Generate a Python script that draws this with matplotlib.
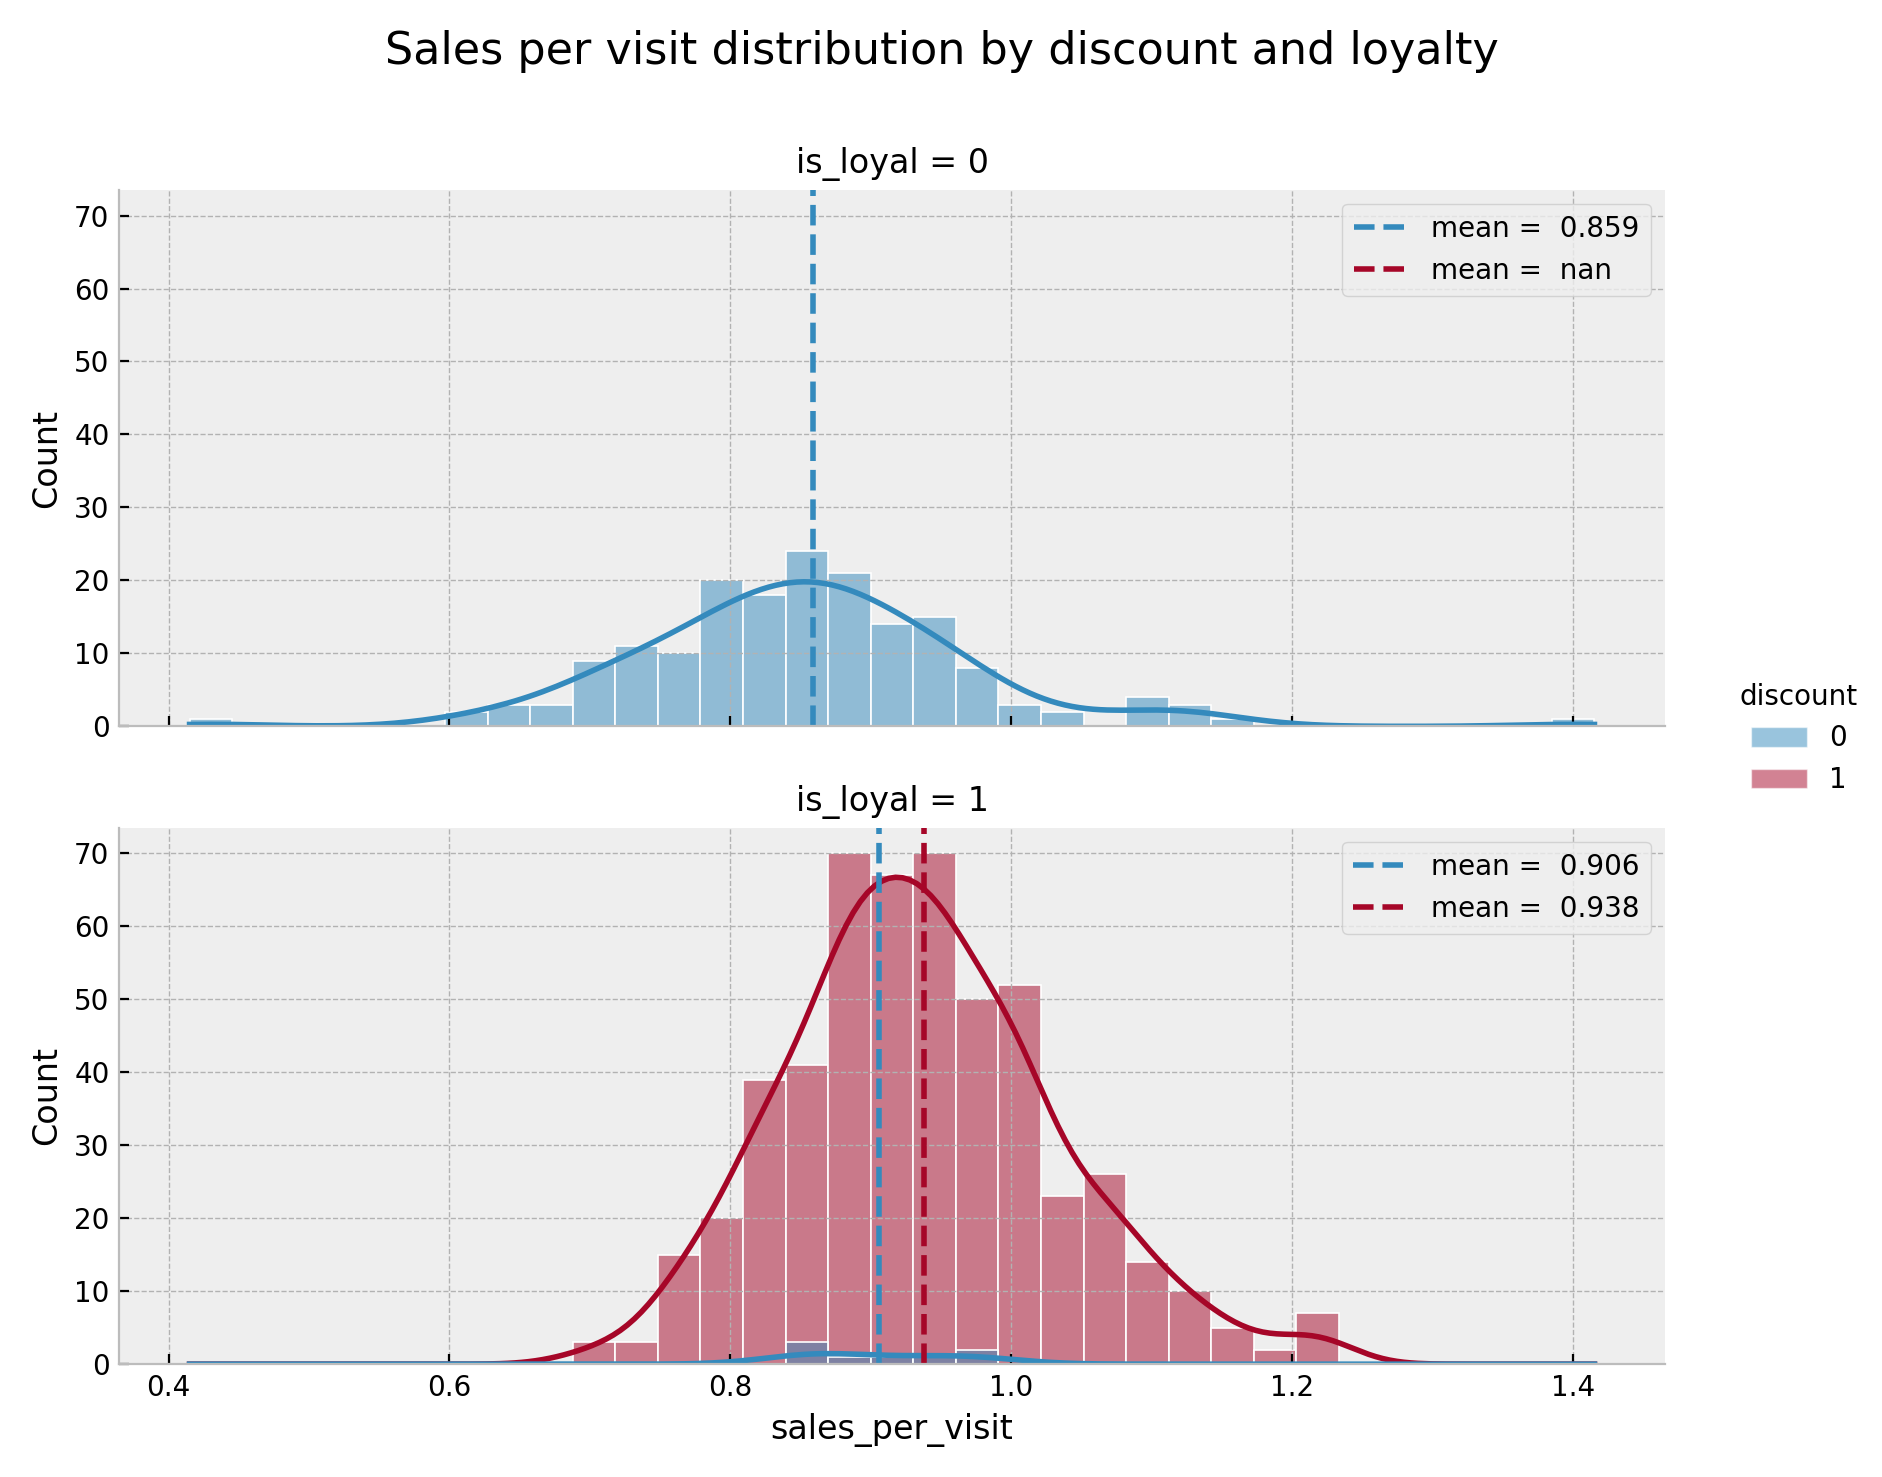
import numpy as np
import pandas as pd
import matplotlib
matplotlib.use("Agg")
import matplotlib.pyplot as plt
import seaborn as sns
from matplotlib.patches import Patch

plt.style.use("bmh")

bin_lo, bin_hi, n_bins = 0.415, 1.415, 33
# counts per bin (33 bins)
loyal0_disc0 = [1,0,0,0,0,0,2,3,3,9,11,10,20,18,24,21,14,15,8,3,2,0,4,3,1,0,0,0,0,0,0,0,1]
loyal0_disc1 = [0]*33
loyal1_disc0 = [0]*14 + [3,1,1,1,2] + [0]*14
loyal1_disc1 = [0,0,0,0,0,0,0,0,0,3,3,15,20,39,41,70,67,70,50,52,23,26,14,10,5,2,7,0,0,0,0,0,0]
means = {0: [0.859, np.nan], 1: [0.906, 0.938]}

width = (bin_hi - bin_lo) / n_bins
centers = bin_lo + width * (np.arange(n_bins) + 0.5)
rows = []
for loyal, (c0, c1) in {0: (loyal0_disc0, loyal0_disc1), 1: (loyal1_disc0, loyal1_disc1)}.items():
    for disc, cnt in ((0, c0), (1, c1)):
        for x in np.repeat(centers, cnt):
            rows.append((x, disc, loyal))
df = pd.DataFrame(rows, columns=["sales_per_visit", "discount", "is_loyal"])

colors = ["#348ABD", "#A60628"]
fig, axes = plt.subplots(2, 1, figsize=(9.415, 7.385), dpi=200, sharex=True, sharey=True)
for loyal, ax in zip([0, 1], axes):
    sub = df[df.is_loyal == loyal]
    sns.histplot(data=sub, x="sales_per_visit", hue="discount", hue_order=[0, 1],
                 palette=colors, bins=n_bins, binrange=(bin_lo, bin_hi), kde=True,
                 kde_kws={"cut": 20, "clip": (bin_lo, bin_hi)},
                 ax=ax, legend=False, alpha=0.5, edgecolor="white", linewidth=0.6,
                 line_kws={"linewidth": 2})
    for d in (0, 1):
        m = means[loyal][d]
        lab = "mean =  nan" if np.isnan(m) else f"mean =  {m:.3f}"
        ax.axvline(m, color=colors[d], ls="--", lw=2, label=lab)
    ax.legend(loc="upper right", fontsize=10)
    ax.set_title(f"is_loyal = {loyal}", fontsize=12)
    ax.set_ylabel("Count", fontsize=12)
    ax.spines["top"].set_visible(False)
    ax.spines["right"].set_visible(False)
    ax.set_ylim(0, 73.5)
axes[0].set_xlabel("")
axes[1].set_xlabel("sales_per_visit", fontsize=12)
axes[1].set_xlim(0.365, 1.465)
axes[0].tick_params(labelbottom=False)

handles = [Patch(facecolor=c, alpha=0.5, edgecolor="white") for c in colors]
fig.legend(handles, ["0", "1"], title="discount", loc="center right", frameon=False,
           bbox_to_anchor=(1.0, 0.5), fontsize=10, title_fontsize=10)
fig.suptitle("Sales per visit distribution by discount and loyalty", fontsize=16)
fig.tight_layout(rect=[0, 0, 0.9, 0.97], h_pad=1.5)
fig.savefig("out.png", dpi=200)
